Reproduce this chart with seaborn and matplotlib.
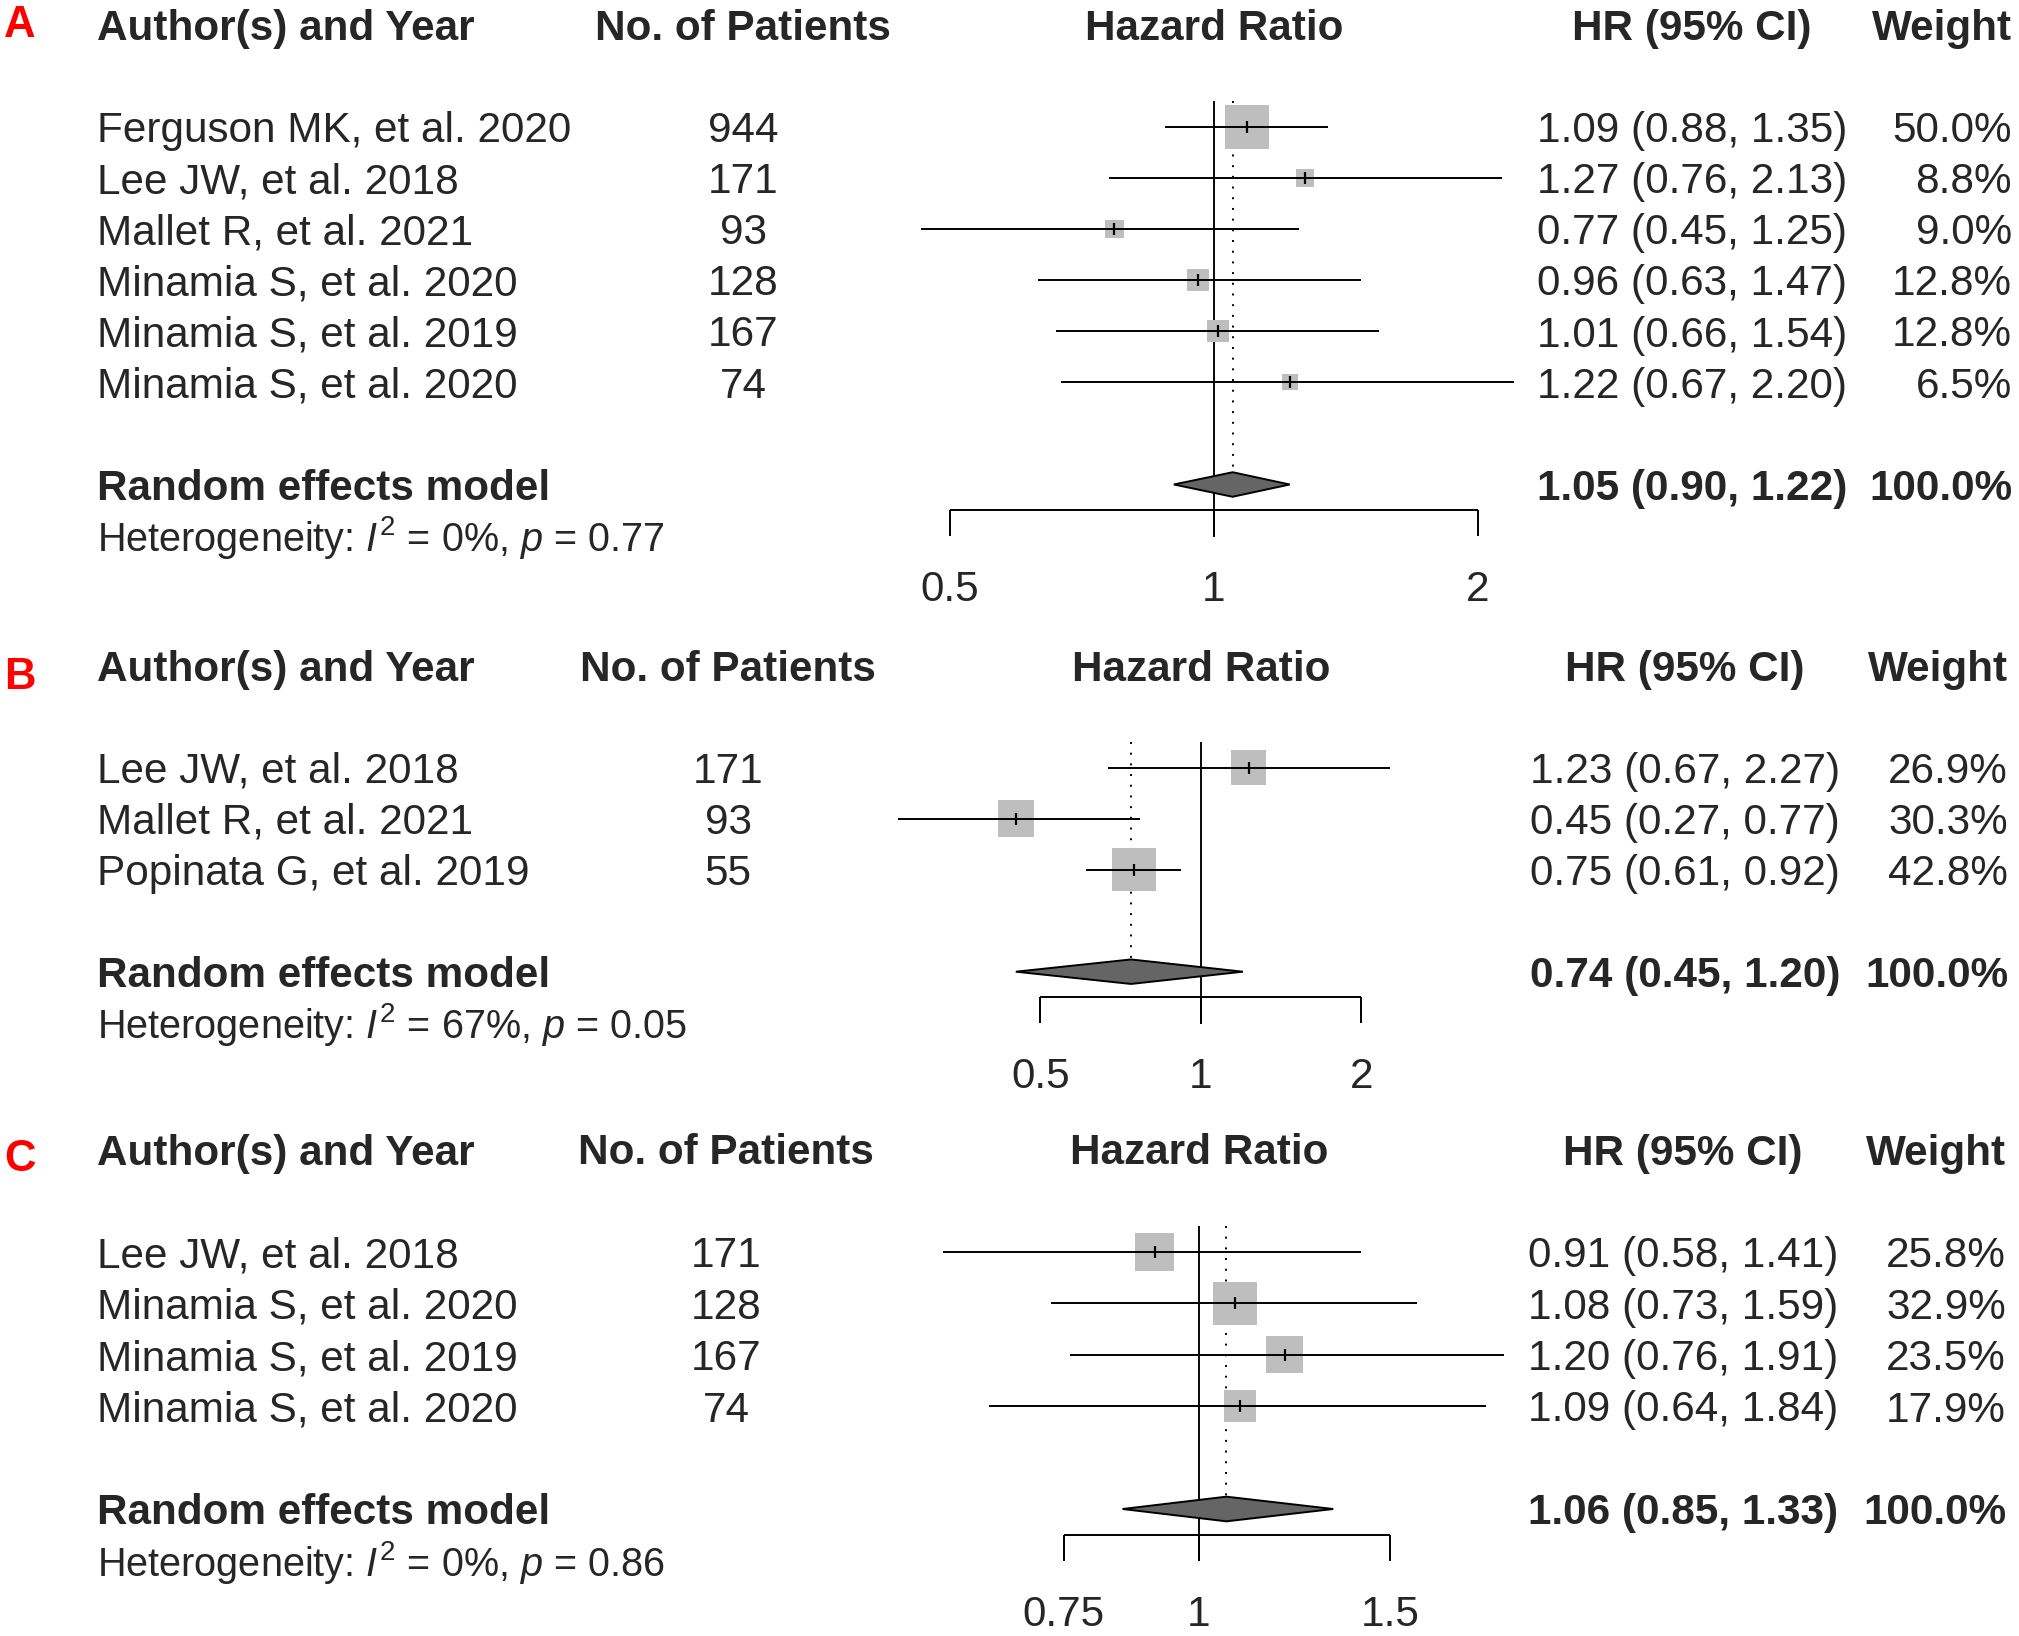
#!/usr/bin/env python3

# Three stacked forest plots (meta-analysis of hazard ratios), panels A, B and C.
import matplotlib

matplotlib.use("Agg")
import matplotlib.pyplot as plt
import matplotlib.transforms as mtransforms
import numpy as np
import pandas as pd
import seaborn as sns
from matplotlib.patches import Polygon

# Panel A data
studies_a = [
    "Ferguson MK, et al. 2020",
    "Lee JW, et al. 2018",
    "Mallet R, et al. 2021",
    "Minamia S, et al. 2020",
    "Minamia S, et al. 2019",
    "Minamia S, et al. 2020",
]
patients_a = [944, 171, 93, 128, 167, 74]
hr_a = [1.09, 1.27, 0.77, 0.96, 1.01, 1.22]
lower_a = [0.88, 0.76, 0.45, 0.63, 0.66, 0.67]
upper_a = [1.35, 2.13, 1.25, 1.47, 1.54, 2.20]
weight_a = [50.0, 8.8, 9.0, 12.8, 12.8, 6.5]
pooled_a = [1.05, 0.90, 1.22]
het_a = ["0%", "0.77"]
ticks_a = [0.5, 1, 2]

# Panel B data
studies_b = ["Lee JW, et al. 2018", "Mallet R, et al. 2021", "Popinata G, et al. 2019"]
patients_b = [171, 93, 55]
hr_b = [1.23, 0.45, 0.75]
lower_b = [0.67, 0.27, 0.61]
upper_b = [2.27, 0.77, 0.92]
weight_b = [26.9, 30.3, 42.8]
pooled_b = [0.74, 0.45, 1.20]
het_b = ["67%", "0.05"]
ticks_b = [0.5, 1, 2]

# Panel C data
studies_c = [
    "Lee JW, et al. 2018",
    "Minamia S, et al. 2020",
    "Minamia S, et al. 2019",
    "Minamia S, et al. 2020",
]
patients_c = [171, 128, 167, 74]
hr_c = [0.91, 1.08, 1.20, 1.09]
lower_c = [0.58, 0.73, 0.76, 0.64]
upper_c = [1.41, 1.59, 1.91, 1.84]
weight_c = [25.8, 32.9, 23.5, 17.9]
pooled_c = [1.06, 0.85, 1.33]
het_c = ["0%", "0.86"]
ticks_c = [0.75, 1, 1.5]

W, H, DPI = 2019, 1636, 100
FS = 30.4
FS_HET = 28.5
SQUARE_PX = 43.5

sns.set_theme(style="white")
plt.rcParams["font.family"] = ["Liberation Sans", "DejaVu Sans"]
plt.rcParams["mathtext.fontset"] = "custom"
plt.rcParams["mathtext.rm"] = "Liberation Sans"
plt.rcParams["mathtext.it"] = "Liberation Sans:italic"
plt.rcParams["mathtext.bf"] = "Liberation Sans:bold"


def draw_panel(fig, label, studies, patients, hr, lower, upper, weight, pooled, het, ticks, lay):
    """
    Draw one forest plot; layout is given in figure pixels.
    """
    n = len(studies)
    x1, k, y0, d = lay["x1"], lay["k"], lay["y0"], lay["d"]
    xl, xr = lay["xpx"]
    top_row, bot_row = -1.0, n + 2.6
    yt, yb = y0 + top_row * d, y0 + bot_row * d
    ax = fig.add_axes([xl / W, 1 - yb / H, (xr - xl) / W, (yb - yt) / H])
    ax.set_xscale("log")
    ax.set_xlim(np.exp((xl - x1) / k), np.exp((xr - x1) / k))
    ax.set_ylim(bot_row, top_row)
    ax.axis("off")

    rows = np.arange(n)
    est, lo, hi = pooled

    # reference lines
    ax.vlines(1, -0.5, n + 2.02, color="black", lw=1.35, zorder=1)
    ax.vlines(est, -0.5, n + 1 - 0.24, color="black", lw=1.4,
              linestyles=(0, (1, 4.5)), zorder=1)

    # study squares, area proportional to weight
    df = pd.DataFrame({"hr": hr, "row": rows, "weight": weight})
    amax = (SQUARE_PX * 72 / DPI) ** 2
    sizes = {w: amax * w / max(weight) for w in weight}
    sns.scatterplot(data=df, x="hr", y="row", size="weight", sizes=sizes, marker="s",
                    color="#BEBEBE", edgecolor="none", linewidth=0, legend=False,
                    ax=ax, zorder=2)
    ax.hlines(rows, lower, upper, color="black", lw=1.4, zorder=3)
    ax.plot(hr, rows, linestyle="none", marker="|", ms=9, mew=1.6, color="black", zorder=4)

    # pooled diamond
    r = n + 1
    h = 0.24
    ax.add_patch(Polygon([(lo, r), (est, r - h), (hi, r), (est, r + h)], closed=True,
                         facecolor="#656565", edgecolor="black", lw=1.4, zorder=3))

    # x axis
    ya = n + 1.5
    ax.hlines(ya, ticks[0], ticks[-1], color="black", lw=1.4, clip_on=False)
    ax.vlines(ticks, ya, ya + 0.51, color="black", lw=1.4, clip_on=False)
    for t in ticks:
        ax.text(t, n + 3.28, f"{t:g}", ha="center", va="baseline", fontsize=FS)

    # text columns
    tr = mtransforms.blended_transform_factory(fig.transFigure, ax.transData)
    bl = 15.3 / d

    def put(xpx, row, s, ha, bold=False, size=FS):
        ax.text(xpx / W, row + bl, s, transform=tr, ha=ha, va="baseline", fontsize=size,
                fontweight="bold" if bold else "normal")

    put(97, -2, "Author(s) and Year", "left", True)
    put(lay["npat"], -2, "No. of Patients", "center", True)
    put(x1, -2, "Hazard Ratio", "center", True)
    put(lay["hrx"], -2, "HR (95% CI)", "center", True)
    put(lay["wx"], -2, "Weight", "right", True)

    for i in range(n):
        put(97, i, studies[i], "left")
        put(lay["npat"], i, str(patients[i]), "center")
        put(lay["hrx"], i, f"{hr[i]:.2f} ({lower[i]:.2f}, {upper[i]:.2f})", "center")
        put(lay["wx"], i, f"{weight[i]:.1f}%", "right")

    put(97, r, "Random effects model", "left", True)
    put(lay["hrx"], r, f"{est:.2f} ({lo:.2f}, {hi:.2f})", "center", True)
    put(lay["wx"], r, "100.0%", "right", True)
    put(97, r + 1, rf"Heterogeneity: $I^2$ = {het[0]}, $p$ = {het[1]}", "left", size=FS_HET)

    fig.text(4 / W, 1 - lay["label_y"] / H, label, color="#FF0000", fontsize=31.5,
             fontweight="bold", ha="left", va="baseline")


def main():
    fig = plt.figure(figsize=(W / DPI, H / DPI), dpi=DPI)
    fig.patch.set_facecolor("white")

    draw_panel(fig, "A", studies_a, patients_a, hr_a, lower_a, upper_a, weight_a,
               pooled_a, het_a, ticks_a,
               dict(x1=1214, k=381, y0=126.8, d=51.1, xpx=(921, 1520),
                    npat=743, hrx=1692, wx=2012, label_y=37))
    draw_panel(fig, "B", studies_b, patients_b, hr_b, lower_b, upper_b, weight_b,
               pooled_b, het_b, ticks_b,
               dict(x1=1200.7, k=231.5, y0=767.5, d=51.05, xpx=(880, 1420),
                    npat=728, hrx=1685, wx=2008, label_y=689))
    draw_panel(fig, "C", studies_c, patients_c, hr_c, lower_c, upper_c, weight_c,
               pooled_c, het_c, ticks_c,
               dict(x1=1199, k=470.6, y0=1252, d=51.4, xpx=(900, 1530),
                    npat=726, hrx=1683, wx=2006, label_y=1171))

    fig.savefig("out.png", dpi=DPI, facecolor="white")
    plt.close(fig)


if __name__ == "__main__":
    main()
